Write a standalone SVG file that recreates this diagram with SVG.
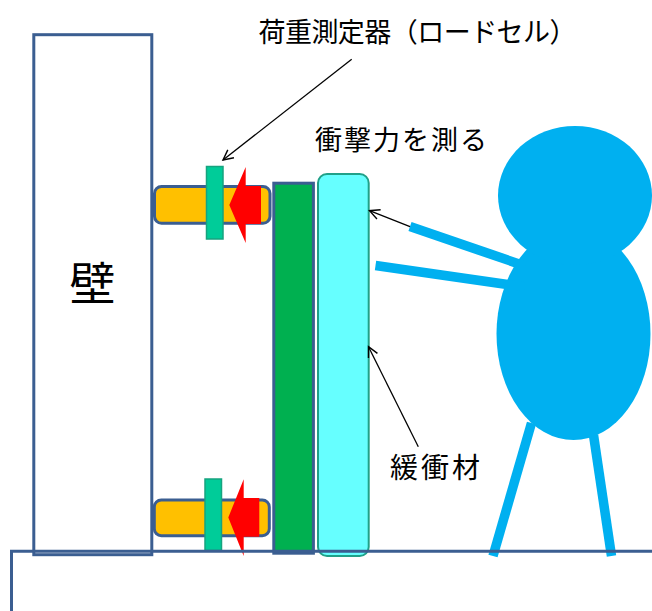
<svg xmlns="http://www.w3.org/2000/svg" width="652" height="611" viewBox="0 0 652 611">
  <style>
    .outline { stroke: #3B5E91; stroke-width: 3; }
    .plate { fill: #00CC99; stroke: #16A37F; stroke-width: 1.5; }
    .pad { fill: #FFC000; stroke: #3B5E91; stroke-width: 3; }
    .push { fill: #FF0000; }
    .body { fill: #00B0F0; }
    .limb { stroke: #00B0F0; stroke-width: 9.5; fill: none; }
    .lead { stroke: #000; stroke-width: 1.3; fill: none; marker-end: url(#open); }
    .label { font-family: "Noto Sans CJK JP", "Noto Sans", sans-serif; fill: #000; }
  </style>
  <defs>
    <marker id="open" markerUnits="userSpaceOnUse" markerWidth="16" markerHeight="16" viewBox="-12 -8 16 16" refX="0" refY="0" orient="auto">
      <path d="M-10,-5 L0,0 L-10,5" fill="none" stroke="#000" stroke-width="1.4"/>
    </marker>
  </defs>

  <rect width="652" height="611" fill="#fff"/>

  <!-- wall -->
  <g id="wall">
    <rect x="33.8" y="34.7" width="118" height="520" fill="#fff" class="outline"/>
    <text class="label" x="69.5" y="300" font-size="46">壁</text>
  </g>

  <!-- upper load cell -->
  <g id="loadcell-top">
    <rect x="154.5" y="186.5" width="115.5" height="36.8" rx="7" class="pad"/>
    <rect x="206.5" y="166.5" width="16.5" height="72.5" class="plate"/>
    <polygon class="push" points="229.3,205 245.7,167 245.7,186 261,186 261,224 245.7,224 245.7,243"/>
  </g>

  <!-- lower load cell -->
  <g id="loadcell-bottom">
    <rect x="154.3" y="500" width="115" height="35.7" rx="7" class="pad"/>
    <rect x="205" y="479" width="16.5" height="71.5" class="plate"/>
    <polygon class="push" points="228.3,517.5 243.7,479.3 243.7,498 259.3,498 259.3,536.7 243.7,536.7 243.7,556"/>
  </g>

  <!-- impact plate -->
  <g id="plate">
    <rect x="273.8" y="183.2" width="39.6" height="370" fill="#00B050" class="outline"/>
  </g>

  <!-- cushioning material -->
  <g id="cushion">
    <rect x="318" y="174" width="50.7" height="382" rx="9" fill="#66FFFF" stroke="#21A088" stroke-width="2"/>
  </g>

  <!-- person pushing -->
  <g id="person">
    <line class="limb" x1="531.5" y1="423" x2="493" y2="556"/>
    <line class="limb" x1="593.5" y1="435" x2="611.5" y2="556"/>
    <ellipse class="body" cx="573.5" cy="334" rx="77" ry="106"/>
    <ellipse class="body" cx="575" cy="195.5" rx="77" ry="69.5"/>
    <line class="limb" x1="410" y1="226.5" x2="525" y2="266"/>
    <line class="limb" x1="375.5" y1="265.5" x2="525" y2="287"/>
  </g>

  <!-- floor -->
  <g id="floor">
    <path d="M11.5,614 V551.3 H656" fill="none" class="outline"/>
  </g>

  <!-- labels -->
  <g id="label-loadcell">
    <text class="label" x="258.5" y="41.5" font-size="27" textLength="318" lengthAdjust="spacing">荷重測定器（ロードセル）</text>
  </g>
  <g id="label-impact">
    <text class="label" x="315" y="149.5" font-size="27" textLength="172" lengthAdjust="spacing">衝撃力を測る</text>
  </g>
  <g id="label-cushion">
    <text class="label" x="390" y="478" font-size="28" textLength="90" lengthAdjust="spacing">緩衝材</text>
  </g>

  <!-- connectors -->
  <g id="connectors">
    <line class="lead" x1="351.7" y1="59.3" x2="223" y2="160"/>
    <line class="lead" x1="410" y1="226.7" x2="369.5" y2="210.7"/>
    <line class="lead" x1="418.3" y1="446.7" x2="368.5" y2="346.7"/>
  </g>
</svg>
